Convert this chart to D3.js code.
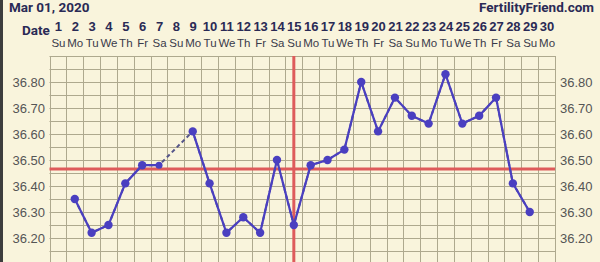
<!DOCTYPE html>
<html>
<head>
<meta charset="utf-8">
<script src="https://cdn.jsdelivr.net/npm/d3@7"></script>
<style>
  html, body { margin: 0; padding: 0; background: #f9f4dc; }
  svg { display: block; font-family: Roboto, "Noto Sans", sans-serif; }
</style>
</head>
<body>
<div id="chart"></div>
<script>
// Données du cycle
const days = d3.range(1, 31);
const weekdays = ["Su","Mo","Tu","We","Th","Fr","Sa","Su","Mo","Tu","We","Th","Fr","Sa","Su",
                  "Mo","Tu","We","Th","Fr","Sa","Su","Mo","Tu","We","Th","Fr","Sa","Su","Mo"];
const temps = [null, 36.35, 36.22, 36.25, 36.41, 36.48, 36.48, null, 36.61, 36.41,
               36.22, 36.28, 36.22, 36.50, 36.25, 36.48, 36.50, 36.54, 36.80, 36.61,
               36.74, 36.67, 36.64, 36.83, 36.64, 36.67, 36.74, 36.41, 36.30, null];
const yTicks = [36.20, 36.30, 36.40, 36.50, 36.60, 36.70, 36.80];
const coverline = 36.465;
const ovulationDay = 15;

const width = 600, height = 262;

const svg = d3.select("#chart").append("svg")
  .attr("width", width)
  .attr("height", height);

svg.append("rect").attr("width", width).attr("height", height).attr("fill", "#f9f4dc");

// Echelles
const x = d3.scaleLinear().domain([0.5, 30.5]).range([49.5, 555]);
const y = d3.scaleLinear().domain([36.10, 36.90]).range([264, 56]);

// Grille
const grid = svg.append("g");
grid.selectAll(".hl")
  .data(d3.range(0, 17).map(i => 36.10 + i * 0.05))
  .enter().append("line")
  .attr("x1", x(0.5)).attr("x2", x(30.5))
  .attr("y1", d => Math.round(y(d)) + 0.5).attr("y2", d => Math.round(y(d)) + 0.5)
  .attr("stroke", "#aea98e").attr("stroke-width", 1);
grid.selectAll(".vl")
  .data(d3.range(0, 31))
  .enter().append("line")
  .attr("x1", d => Math.round(x(d + 0.5)) + 0.5).attr("x2", d => Math.round(x(d + 0.5)) + 0.5)
  .attr("y1", y(36.90)).attr("y2", height)
  .attr("stroke", "#aea98e").attr("stroke-width", 1);

// Ligne de couverture et jour d'ovulation
svg.append("line")
  .attr("x1", x(0.5)).attr("x2", x(30.5))
  .attr("y1", y(coverline)).attr("y2", y(coverline))
  .attr("stroke", "#de5b5b").attr("stroke-width", 3);
svg.append("line")
  .attr("x1", x(ovulationDay)).attr("x2", x(ovulationDay))
  .attr("y1", y(36.90)).attr("y2", height)
  .attr("stroke", "#de5b5b").attr("stroke-width", 3);

// Axes Y (gauche et droite)
svg.append("g").attr("transform", "translate(45,0)")
  .call(d3.axisLeft(y).tickValues(yTicks).tickFormat(d3.format(".2f")).tickSize(0))
  .call(g => g.select(".domain").remove())
  .call(g => g.selectAll("text").attr("fill", "#555").attr("font-size", 13).attr("x", 0));
svg.append("g").attr("transform", "translate(560,0)")
  .call(d3.axisRight(y).tickValues(yTicks).tickFormat(d3.format(".2f")).tickSize(0))
  .call(g => g.select(".domain").remove())
  .call(g => g.selectAll("text").attr("fill", "#555").attr("font-size", 13).attr("x", 0));

// Axe des jours (haut)
svg.append("g").attr("transform", "translate(0,31)")
  .call(d3.axisTop(x).tickValues(days).tickFormat(d3.format("d")).tickSize(0))
  .call(g => g.select(".domain").remove())
  .call(g => g.selectAll("text").attr("fill", "#2a2a55").attr("font-size", 13)
    .attr("font-weight", "bold").attr("y", 0));
svg.append("g").attr("transform", "translate(0,47)")
  .call(d3.axisTop(x).tickValues(days).tickFormat(d => weekdays[d - 1]).tickSize(0))
  .call(g => g.select(".domain").remove())
  .call(g => g.selectAll("text").attr("fill", "#3a3a4a").attr("font-size", 11.5).attr("y", 0));

// En-têtes
svg.append("text").attr("x", 9).attr("y", 12)
  .attr("font-size", 13.5).attr("font-weight", "bold").attr("fill", "#2a2a55")
  .text("Mar 01, 2020");
svg.append("text").attr("x", 594).attr("y", 12).attr("text-anchor", "end")
  .attr("font-size", 13.5).attr("font-weight", "bold").attr("fill", "#2a2a55")
  .text("FertilityFriend.com");
svg.append("text").attr("x", 22).attr("y", 35)
  .attr("font-size", 13.5).attr("font-weight", "bold").attr("fill", "#2a2a55")
  .text("Date");

// Bordure gauche
svg.append("rect").attr("x", 0).attr("y", 0).attr("width", 3).attr("height", height).attr("fill", "#3d3d3d");

// Courbe
const pts = days.map((d, i) => ({ day: d, t: temps[i] }));
const line = d3.line().defined(d => d.t !== null).x(d => x(d.day)).y(d => y(d.t));
const valid = pts.filter(d => d.t !== null);

// segment pointillé pour le jour manquant
svg.append("path")
  .datum(valid)
  .attr("d", d3.line().x(d => x(d.day)).y(d => y(d.t)))
  .attr("fill", "none").attr("stroke", "#55558a").attr("stroke-width", 2)
  .attr("stroke-dasharray", "4,3");
svg.append("path")
  .datum(pts)
  .attr("d", line)
  .attr("fill", "none").attr("stroke", "#4a3fc0").attr("stroke-width", 2.2);

svg.selectAll(".dot")
  .data(valid)
  .enter().append("circle")
  .attr("class", "dot")
  .attr("cx", d => x(d.day))
  .attr("cy", d => y(d.t))
  .attr("r", d => d.day === 7 ? 3.5 : 4.2)
  .attr("fill", "#4a3fc0");
</script>
</body>
</html>
